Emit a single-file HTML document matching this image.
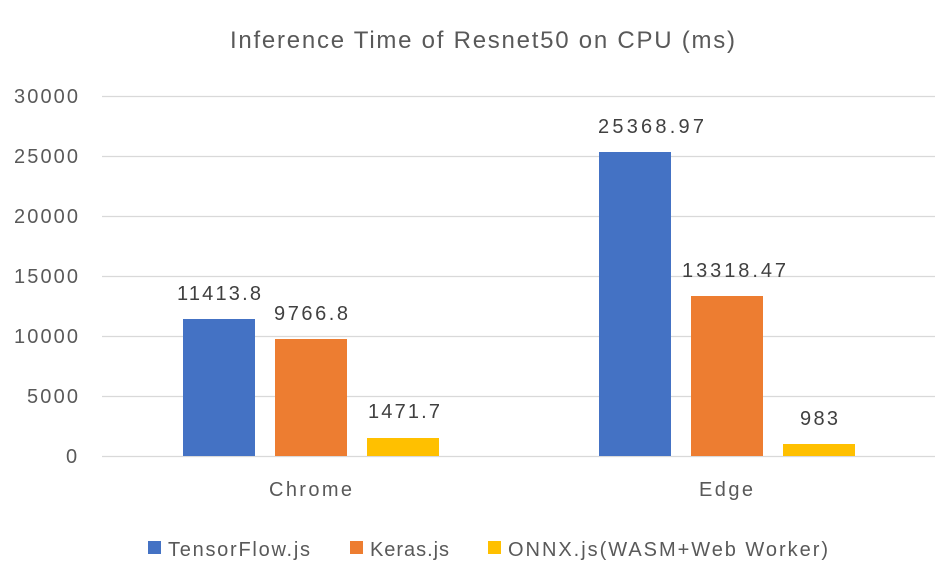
<!DOCTYPE html>
<html><head><style>
html,body{margin:0;padding:0;background:#fff;}
svg text{font-family:"Liberation Sans",sans-serif;fill:#595959;}
</style></head><body>
<svg width="951" height="578" viewBox="0 0 951 578" xmlns="http://www.w3.org/2000/svg">
<rect width="951" height="578" fill="#fff"/>
<text x="230" y="48" font-size="24" textLength="505" lengthAdjust="spacing">Inference Time of Resnet50 on CPU (ms)</text>
<g stroke="#d9d9d9" stroke-width="1.3">
<line x1="102" y1="96.5" x2="935" y2="96.5"/>
<line x1="102" y1="156.5" x2="935" y2="156.5"/>
<line x1="102" y1="216.5" x2="935" y2="216.5"/>
<line x1="102" y1="276.5" x2="935" y2="276.5"/>
<line x1="102" y1="336.5" x2="935" y2="336.5"/>
<line x1="102" y1="396.5" x2="935" y2="396.5"/>
<line x1="102" y1="456.5" x2="935" y2="456.5"/>
</g>
<g font-size="20">
<text x="14" y="103" textLength="64">30000</text>
<text x="14" y="163" textLength="64">25000</text>
<text x="14" y="223" textLength="64">20000</text>
<text x="14" y="283" textLength="64">15000</text>
<text x="14" y="343" textLength="64">10000</text>
<text x="27" y="403" textLength="51">5000</text>
<text x="66" y="463" textLength="12">0</text>
</g>
<rect x="183" y="319" width="72" height="137" fill="#4472c4"/>
<rect x="275" y="339" width="72" height="117" fill="#ed7d31"/>
<rect x="367" y="438" width="72" height="18" fill="#ffc000"/>
<rect x="599" y="152" width="72" height="304" fill="#4472c4"/>
<rect x="691" y="296" width="72" height="160" fill="#ed7d31"/>
<rect x="783" y="444" width="72" height="12" fill="#ffc000"/>
<g font-size="20">
<text x="177" y="300" textLength="84" style="fill:#404040">11413.8</text>
<text x="274" y="320" textLength="74" style="fill:#404040">9766.8</text>
<text x="368" y="418" textLength="72" style="fill:#404040">1471.7</text>
<text x="598" y="133" textLength="106" style="fill:#404040">25368.97</text>
<text x="682" y="277" textLength="104" style="fill:#404040">13318.47</text>
<text x="800" y="425" textLength="38" style="fill:#404040">983</text>
</g>
<g font-size="20">
<text x="269" y="496" textLength="83">Chrome</text>
<text x="699" y="496" textLength="54">Edge</text>
</g>
<rect x="148" y="541" width="13" height="13" fill="#4472c4"/>
<text x="168" y="556" font-size="20" textLength="142">TensorFlow.js</text>
<rect x="350" y="541" width="13" height="13" fill="#ed7d31"/>
<text x="370" y="556" font-size="20" textLength="79">Keras.js</text>
<rect x="488" y="541" width="13" height="13" fill="#ffc000"/>
<text x="508" y="556" font-size="20" textLength="320">ONNX.js(WASM+Web Worker)</text>
</svg>
</body></html>
